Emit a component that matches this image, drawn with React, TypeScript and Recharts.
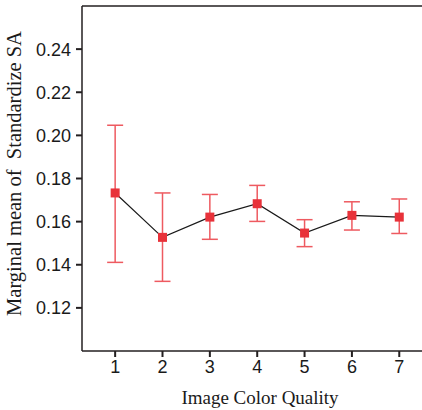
import { ComposedChart, Line, XAxis, YAxis, ErrorBar, ReferenceLine } from "recharts";

const quality = [1, 2, 3, 4, 5, 6, 7];
const meanSA = [0.1733, 0.1527, 0.1621, 0.1683, 0.1547, 0.1629, 0.1621];
const lowerCI = [0.1411, 0.1323, 0.1518, 0.1601, 0.1484, 0.1561, 0.1545];
const upperCI = [0.2047, 0.1733, 0.1726, 0.1768, 0.1609, 0.1692, 0.1705];
const yTicks = [0.12, 0.14, 0.16, 0.18, 0.2, 0.22, 0.24];

const data = quality.map((q, i) => ({
  q,
  mean: meanSA[i],
  err: [meanSA[i] - lowerCI[i], upperCI[i] - meanSA[i]],
}));

const axisColor = "#231f20";

const SquareDot = (props: any) => {
  const { cx, cy } = props;
  if (cx == null || cy == null) return null;
  return <rect x={cx - 4.5} y={cy - 4.5} width={9} height={9} fill="#e8323a" />;
};

export default function App() {
  return (
    <div style={{ position: "absolute", left: 0, top: 0, width: 422, height: 410, background: "#fff" }}>
      <ComposedChart width={422} height={410} data={data} margin={{ top: 6, right: 0, bottom: 0, left: 0 }}>
        <XAxis
          dataKey="q"
          type="number"
          domain={[0.3, 7.48]}
          ticks={quality}
          allowDataOverflow
          height={59}
          stroke={axisColor}
          strokeWidth={1.5}
          tickSize={6}
          tickMargin={3}
          tickLine={{ stroke: axisColor, strokeWidth: 2 }}
          tick={{ fill: "#1a1a1a", fontSize: 18, fontFamily: "Liberation Sans, Arial, sans-serif" }}
          label={{
            value: "Image Color Quality",
            position: "insideBottom",
            offset: 6,
            dx: 8,
            fill: "#1a1a1a",
            fontSize: 19,
            fontFamily: "Liberation Serif, Times New Roman, serif",
          }}
        />
        <YAxis
          type="number"
          domain={[0.1, 0.26]}
          ticks={yTicks}
          allowDataOverflow
          width={82}
          stroke={axisColor}
          strokeWidth={1.5}
          tickSize={6}
          tickMargin={5}
          tickLine={{ stroke: axisColor, strokeWidth: 2 }}
          tickFormatter={(v: number) => v.toFixed(2)}
          tick={{ fill: "#1a1a1a", fontSize: 18, fontFamily: "Liberation Sans, Arial, sans-serif" }}
          label={{
            value: "Marginal mean of\u00a0 Standardize SA",
            angle: -90,
            position: "insideLeft",
            offset: 14,
            dy: -5,
            fill: "#1a1a1a",
            fontSize: 20.5,
            fontFamily: "Liberation Serif, Times New Roman, serif",
            style: { textAnchor: "middle" },
          }}
        />
        <ReferenceLine y={0.26} stroke={axisColor} strokeWidth={1.5} ifOverflow="visible" />
        <Line
          dataKey="mean"
          stroke="#1a1a1a"
          strokeWidth={1.2}
          dot={<SquareDot />}
          activeDot={false}
          isAnimationActive={false}
        >
          <ErrorBar dataKey="err" width={8} stroke="#ee5a60" strokeWidth={1.5} direction="y" />
        </Line>
      </ComposedChart>
    </div>
  );
}
